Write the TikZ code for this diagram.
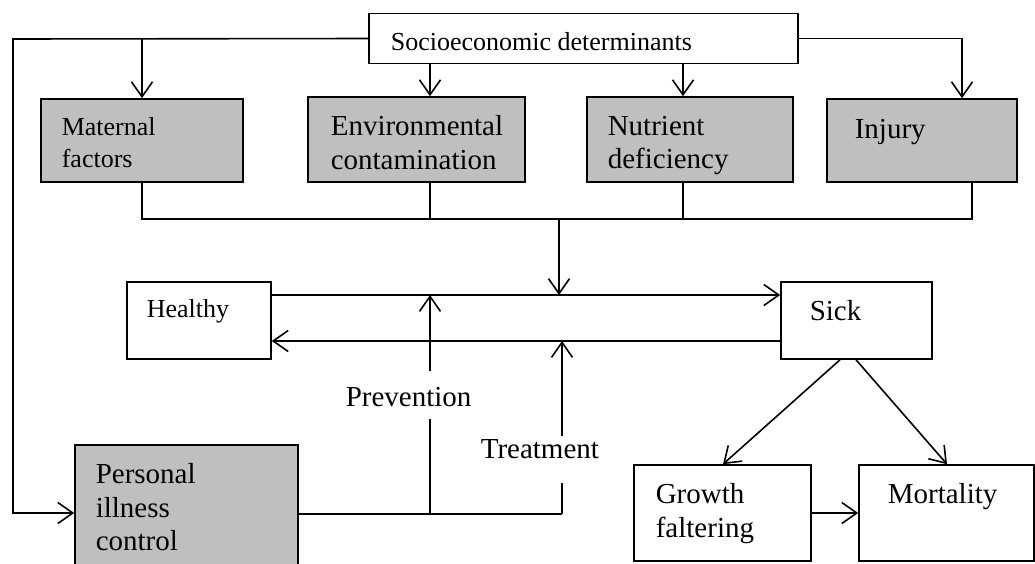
\documentclass[tikz,border=0pt]{standalone}
\usepackage{fontspec}
\setmainfont{Liberation Serif}
\usetikzlibrary{arrows.meta}
\begin{document}
\begin{tikzpicture}[x=1pt,y=-1pt,
  line width=1.6pt,
  box/.style={draw, inner sep=0pt},
  grey/.style={box, fill=black!25},
  arr/.style={-{Straight Barb[length=15pt,width=21pt]}},
  small/.style={font=\fontsize{26}{30}\selectfont, inner sep=0pt, anchor=base west},
  big/.style={font=\fontsize{29}{33}\selectfont, inner sep=0pt, anchor=base west}]
\useasboundingbox (0,0) rectangle (1035,563);
\clip (0,0) rectangle (1035,563);
% boxes
\node[box, minimum width=429pt, minimum height=50pt] (socio) at (583.5,38.5) {};
\node[grey, minimum width=202pt, minimum height=83pt] (mat) at (142,140.5) {};
\node[grey, minimum width=217pt, minimum height=85pt] (env) at (416.5,139.5) {};
\node[grey, minimum width=206pt, minimum height=85pt] (nut) at (690,139.5) {};
\node[grey, minimum width=190pt, minimum height=83pt] (inj) at (922,140.5) {};
\node[box, minimum width=144pt, minimum height=77pt] (heal) at (199,320.5) {};
\node[box, minimum width=151pt, minimum height=77pt] (sick) at (856.5,320.5) {};
\node[grey, minimum width=223pt, minimum height=136pt] (pers) at (186.5,513) {};
\node[box, minimum width=177pt, minimum height=96pt] (grow) at (722.5,513) {};
\node[box, minimum width=175pt, minimum height=96pt] (mort) at (946.5,513) {};
% texts
\node[small] (tsocio) at (390,50) {Socioeconomic determinants};
\node[small] (tmat1) at (61,135) {Maternal};
\node[small] (tmat2) at (61,167) {factors};
\node[big] (tenv1) at (330,135) {Environmental};
\node[big] (tenv2) at (330,169) {contamination};
\node[big] (tnut1) at (607,135) {Nutrient};
\node[big] (tnut2) at (607,168) {deficiency};
\node[big] (tinj) at (854,138) {Injury};
\node[small] (theal) at (146,317) {Healthy};
\node[big] (tsick) at (809,320) {Sick};
\node[big] (tpers1) at (95,483) {Personal};
\node[big] (tpers2) at (95,517) {illness};
\node[big] (tpers3) at (95,550) {control};
\node[big] (tgrow1) at (655,503) {Growth};
\node[big] (tgrow2) at (655,537) {faltering};
\node[big] (tmort) at (887,503) {Mortality};
\node[big, text height=34pt, text depth=12pt] (prev) at (345,406) {Prevention};
\node[big, text height=21pt, text depth=24pt] (treat) at (480,458) {Treatment};
% coordinates
\coordinate (lt) at (13,39);
\coordinate (lb) at (13,513);
\coordinate (bus) at (0,219);
\coordinate (mid) at (559,219);
\coordinate (pv) at (430,514);
\coordinate (tr) at (562,514);
\coordinate (up1) at ([yshift=25.5pt]heal.east);
\coordinate (up2) at ([yshift=25.5pt]sick.west);
\coordinate (lo1) at ([yshift=-20.5pt]heal.east);
\coordinate (lo2) at ([yshift=-20.5pt]sick.west);
% socio connectors
\draw[arr] (socio.west) -- (lt) -- (lb) -- (lb -| pers.west);
\draw[arr] (mat.north |- lt) -- (mat.north);
\draw[arr] ([xshift=13.5pt]env.north |- socio.south) -- ([xshift=13.5pt]env.north);
\draw[arr] ([xshift=-7pt]nut.north |- socio.south) -- ([xshift=-7pt]nut.north);
\draw[arr] (socio.east) -| ([xshift=40pt]inj.north);
% bus
\draw (mat.south) -- (mat.south |- bus) -- ([xshift=50pt]inj.south |- bus) -- ([xshift=50pt]inj.south);
\draw ([xshift=13.5pt]env.south) -- ([xshift=13.5pt]env.south |- bus);
\draw ([xshift=-7pt]nut.south) -- ([xshift=-7pt]nut.south |- bus);
\draw[arr] (mid) -- (mid |- up1);
% healthy - sick
\draw[arr] (up1) -- (up2);
\draw[arr] (lo2) -- (lo1);
% prevention / treatment
\draw (pers.east |- pv) -- (tr);
\draw (pv) -- (pv |- prev.south);
\draw[arr] (pv |- prev.north) -- (pv |- up1);
\draw (tr) -- (tr |- treat.south);
\draw[arr] (tr |- treat.north) -- (tr |- lo1);
% outcomes
\draw[arr] ([xshift=-16.5pt]sick.south) -- ([xshift=0.5pt]grow.north);
\draw[arr] ([xshift=-0.5pt]sick.south) -- ([xshift=0.5pt]mort.north);
\draw[arr] (grow.east) -- (mort.west);
\end{tikzpicture}
\end{document}
